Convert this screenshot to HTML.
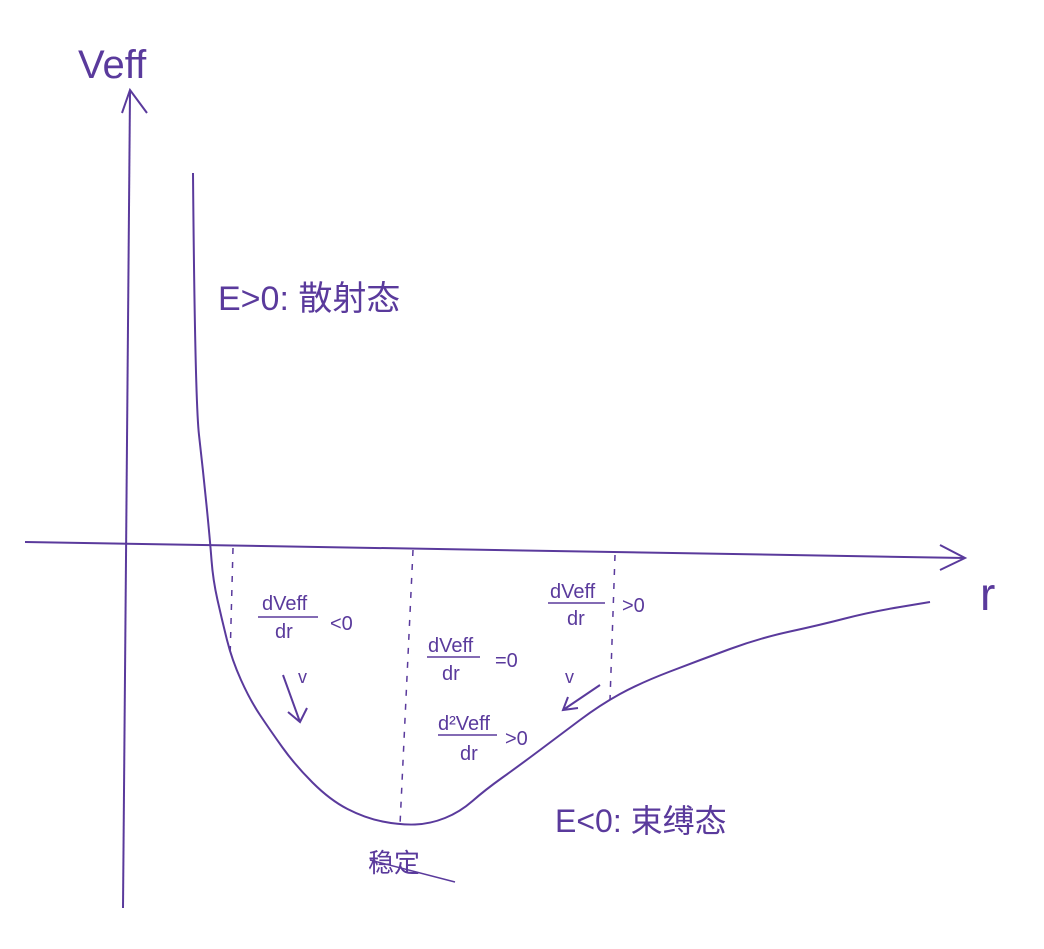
<!DOCTYPE html>
<html><head><meta charset="utf-8"><style>
html,body{margin:0;padding:0;background:#fff;}
svg{display:block;}
text{fill:#5a3a9c;font-family:"Liberation Sans","Noto Sans CJK SC",sans-serif;}
</style></head><body>
<svg id="c" width="1044" height="949" viewBox="0 0 1044 949">
<g stroke="#5a3a9c" stroke-width="2" fill="none">
<path d="M123 908 L130 92"/>
<path d="M122 113 L130 90 L147 113"/>
<path d="M25 542 L965 558"/>
<path d="M940 545 L965 558 L940 570"/>
<g stroke-dasharray="6,8" stroke-width="1.5">
<path d="M233 548 L230 660"/>
<path d="M413 550 L400 825"/>
<path d="M615 555 L610 700"/>
</g>
<path d="M283 675 L300 722 M288 712 L300 722 L307 708"/>
<path d="M600 685 L563 710 M568 697 L563 710 L578 708"/>
<path d="M258 617 L318 617 M427 657 L480 657 M548 603 L605 603 M438 735 L497 735" stroke-width="1.5"/>
<path d="M370 860 L455 882" stroke-width="1.5"/>
</g>
<g id="curve"></g>
<text x="78" y="78" font-size="40">Veff</text>
<text x="980" y="610" font-size="46">r</text>
<text x="218" y="310" font-size="34">E&gt;0: 散射态</text>
<text x="555" y="832" font-size="32">E&lt;0: 束缚态</text>
<text x="368" y="872" font-size="26">稳定</text>
<g font-size="20">
<text x="262" y="610">dVeff</text><text x="275" y="638">dr</text><text x="330" y="630">&lt;0</text>
<text x="428" y="652">dVeff</text><text x="442" y="680">dr</text><text x="495" y="667">=0</text>
<text x="550" y="598">dVeff</text><text x="567" y="625">dr</text><text x="622" y="612">&gt;0</text>
<text x="438" y="730">d²Veff</text><text x="460" y="760">dr</text><text x="505" y="745">&gt;0</text>
<text x="298" y="683" font-size="18">v</text><text x="565" y="683" font-size="18">v</text>
</g>
</svg>
<script>
const rVals=[65,67,75,82,85,94,104,122,142,167,202,237,272,302,332,357,392,432,472,512,572,632,692,742,802];
const vVals=[370,143,73,3,-37,-77,-117,-157,-187,-222,-257,-275,-282,-281,-269,-247,-222,-192,-162,-140,-117,-95,-82,-69,-59];
const X0=128,Y0=543;
function xScale(r){return X0+r;}
function yScale(v){return Y0-v;}
const pts=rVals.map((r,i)=>[xScale(r),yScale(vVals[i])]);
let d='M'+pts[0][0]+' '+pts[0][1]+' ';
for(let i=1;i<pts.length-1;i++){
  const mx=(pts[i][0]+pts[i+1][0])/2, my=(pts[i][1]+pts[i+1][1])/2;
  d+='Q'+pts[i][0]+' '+pts[i][1]+' '+mx+' '+my+' ';
}
d+='L'+pts[pts.length-1][0]+' '+pts[pts.length-1][1];
const p=document.createElementNS('http://www.w3.org/2000/svg','path');
p.setAttribute('d',d);
p.setAttribute('stroke','#5a3a9c');
p.setAttribute('stroke-width','2');
p.setAttribute('fill','none');
p.setAttribute('stroke-linejoin','round');


document.getElementById('curve').appendChild(p);
</script>
</body></html>
